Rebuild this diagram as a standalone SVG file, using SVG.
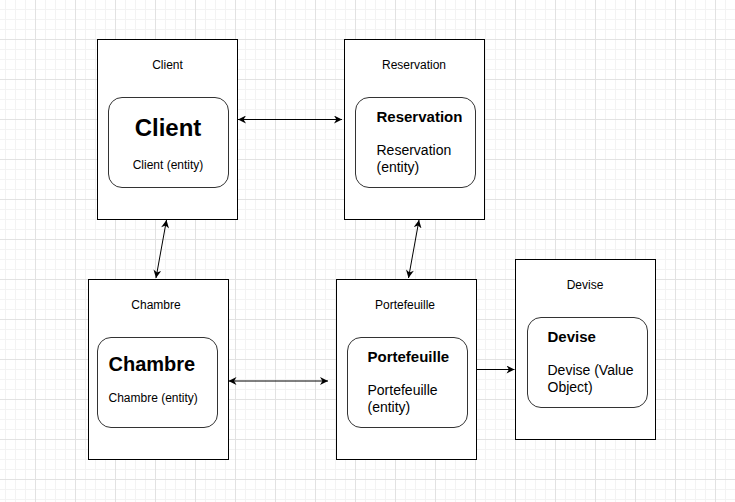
<svg xmlns="http://www.w3.org/2000/svg" width="735" height="502" viewBox="0 0 735 502">
<defs>
<pattern id="grid" x="35" y="39" width="40" height="40" patternUnits="userSpaceOnUse">
<path d="M10.5,0V40M20.5,0V40M30.5,0V40M0,10.5H40M0,20.5H40M0,30.5H40" stroke="#f3f3f3" stroke-width="1" fill="none"/>
<path d="M0.5,0V40M0,0.5H40" stroke="#e2e2e2" stroke-width="1" fill="none"/>
</pattern>
<marker id="arr" viewBox="0 0 10 10" markerUnits="userSpaceOnUse" markerWidth="9" markerHeight="8" refX="10" refY="5" orient="auto-start-reverse">
<path d="M0,0 L10,5 L0,10 L3,5 z" fill="#000"/>
</marker>
<style>
.outer{fill:#fff;stroke:#000;stroke-width:1}
.inner{fill:#fff;stroke:#333;stroke-width:1}
text{font-family:"Liberation Sans",Arial,Helvetica,sans-serif;fill:#000}
.t12{font-size:12px}
.t14{font-size:14px}
.b15{font-size:15px;font-weight:bold}
.mid{text-anchor:middle}
.conn{stroke:#000;stroke-width:1;fill:none}
</style>
</defs>
<rect width="735" height="502" fill="#fff"/>
<rect width="735" height="502" fill="url(#grid)"/>

<g id="node-client">
<rect class="outer" x="97.5" y="39.5" width="140" height="180"/>
<text class="t12 mid" x="167.5" y="69">Client</text>
<rect class="inner" x="108.5" y="97.5" width="120" height="90" rx="13.5"/>
<text class="mid" x="168" y="136" style="font-size:24px;font-weight:bold">Client</text>
<text class="t12 mid" x="168" y="169">Client (entity)</text>
</g>

<g id="node-reservation">
<rect class="outer" x="344.5" y="39.5" width="140" height="180"/>
<text class="t12 mid" x="414" y="69">Reservation</text>
<rect class="inner" x="355.5" y="97.5" width="120" height="90" rx="13.5"/>
<text class="b15" x="376.5" y="122">Reservation</text>
<text class="t14" x="376.5" y="155">Reservation</text>
<text class="t14" x="376.5" y="172">(entity)</text>
</g>

<g id="node-chambre">
<rect class="outer" x="88.5" y="279.5" width="140" height="180"/>
<text class="t12 mid" x="156" y="309">Chambre</text>
<rect class="inner" x="97.5" y="337.5" width="120" height="90" rx="13.5"/>
<text x="108.5" y="371" style="font-size:20px;font-weight:bold">Chambre</text>
<text class="t12" x="108.5" y="402">Chambre (entity)</text>
</g>

<g id="node-portefeuille">
<rect class="outer" x="336.5" y="279.5" width="140" height="180"/>
<text class="t12 mid" x="405" y="309">Portefeuille</text>
<rect class="inner" x="347.5" y="337.5" width="120" height="90" rx="13.5"/>
<text class="b15" x="367.5" y="362">Portefeuille</text>
<text class="t14" x="367.5" y="395">Portefeuille</text>
<text class="t14" x="367.5" y="412">(entity)</text>
</g>

<g id="node-devise">
<rect class="outer" x="515.5" y="259.5" width="140" height="180"/>
<text class="t12 mid" x="585" y="289">Devise</text>
<rect class="inner" x="527.5" y="317.5" width="120" height="90" rx="13.5"/>
<text class="b15" x="547.5" y="342">Devise</text>
<text class="t14" x="547.5" y="375">Devise (Value</text>
<text class="t14" x="547.5" y="392">Object)</text>
</g>

<g id="connectors">
<line class="conn" x1="238" y1="119.5" x2="342" y2="119.5" marker-start="url(#arr)" marker-end="url(#arr)"/>
<line class="conn" x1="166.5" y1="220" x2="156" y2="278" marker-start="url(#arr)" marker-end="url(#arr)"/>
<line class="conn" x1="419" y1="220" x2="408.5" y2="278" marker-start="url(#arr)" marker-end="url(#arr)"/>
<line class="conn" x1="228.5" y1="381" x2="328" y2="381" marker-start="url(#arr)" marker-end="url(#arr)"/>
<line class="conn" x1="476" y1="369.5" x2="514.5" y2="369.5" marker-end="url(#arr)"/>
</g>
</svg>
